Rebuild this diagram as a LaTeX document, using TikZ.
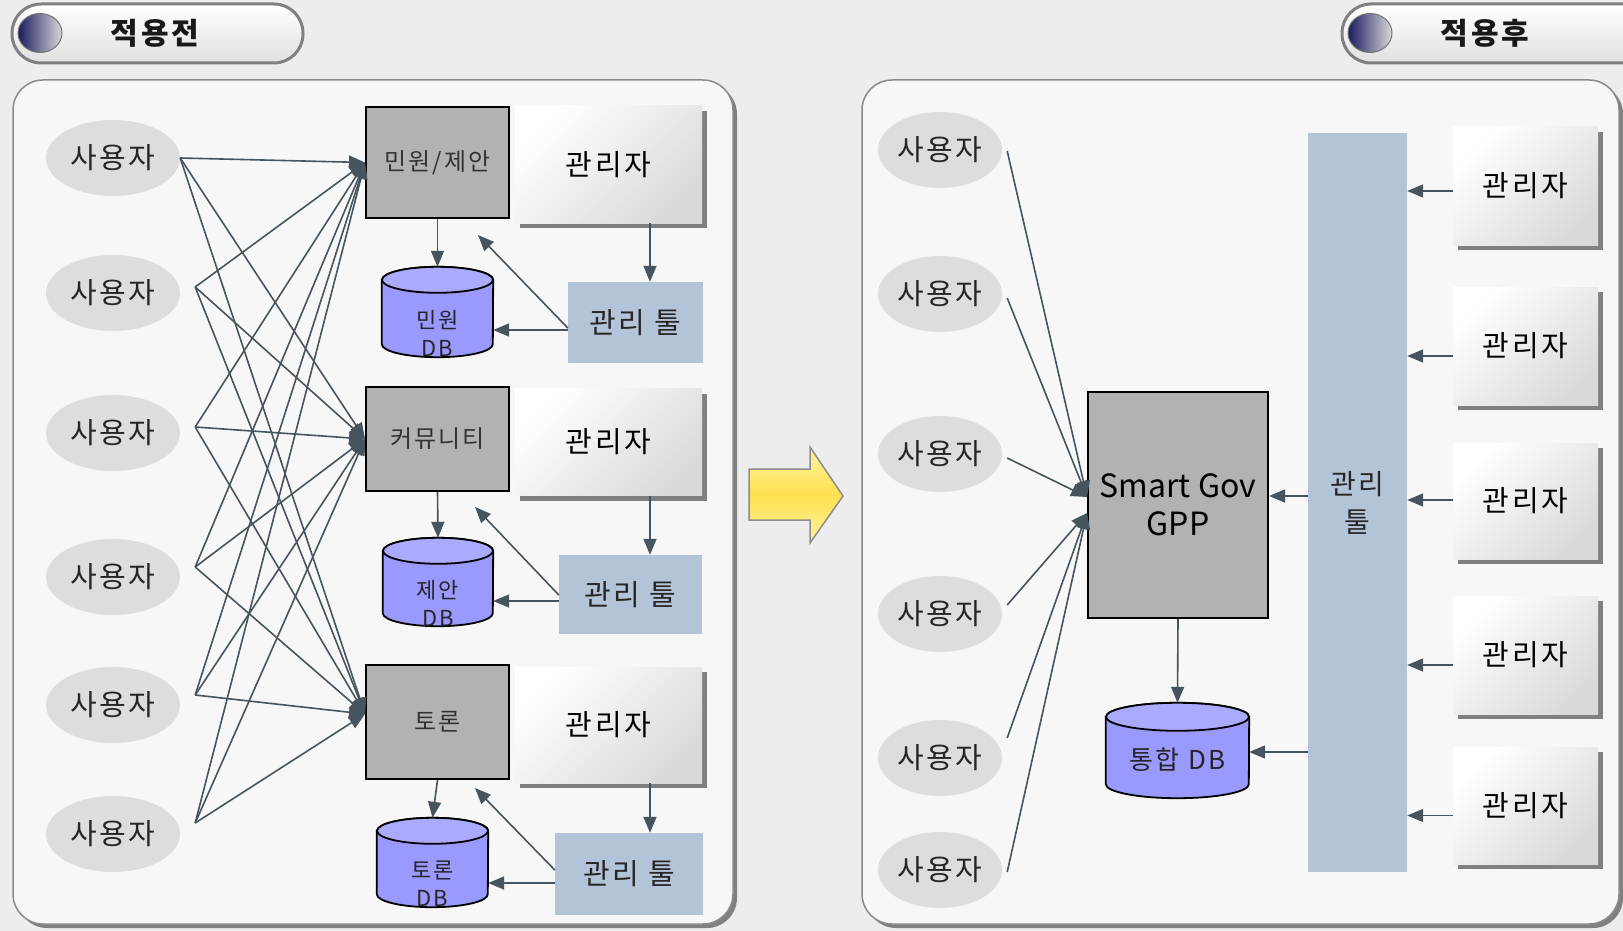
\documentclass[tikz,border=0pt]{standalone}
\usepackage{fontspec}
\newfontfamily\kr[LetterSpace=9]{Noto Sans CJK KR}
\newfontfamily\krn{Noto Sans CJK KR}
\usetikzlibrary{shapes.geometric,arrows.meta,shadows,calc}
\definecolor{bgc}{HTML}{EDEDED}
\definecolor{panelfill}{HTML}{F7F7F7}
\definecolor{panelborder}{HTML}{8A8A8A}
\definecolor{shadowgray}{HTML}{808080}
\definecolor{usergray}{HTML}{DDDDDD}
\definecolor{boxgray}{HTML}{B2B2B2}
\definecolor{toolblue}{HTML}{B4C4D8}
\definecolor{dbbody}{HTML}{9999FF}
\definecolor{dbtop}{HTML}{AAAAFF}
\definecolor{connc}{HTML}{46555D}
\definecolor{adminend}{HTML}{DADADA}
\definecolor{navy}{HTML}{1B1B5E}
\definecolor{yellowmid}{HTML}{FFE050}
\definecolor{yellowedge}{HTML}{FFF3A0}
\newcommand\dbshape[3]{%
  \path[fill=dbbody,draw=black,line width=1.8pt]
    ([yshift=-#3pt]#1.north west) -- ([yshift=#3pt]#1.south west)
    arc[start angle=180,end angle=0,x radius=#2,y radius=#3]
    -- ([yshift=-#3pt]#1.north east)
    arc[start angle=0,end angle=-180,x radius=#2,y radius=#3] -- cycle;
  \path[fill=dbtop,draw=black,line width=1.8pt]
    ([yshift=-#3pt]#1.north) ellipse[x radius=#2,y radius=#3];
}
\begin{document}
\begin{tikzpicture}[x=1pt,y=-1pt,
  kr30/.style={font=\kr\fontsize{29}{34}\selectfont},
  panel/.style={rectangle,rounded corners=30pt,fill=panelfill,draw=panelborder,line width=1.5pt,inner sep=0pt,
    drop shadow={shadow xshift=4pt,shadow yshift=-4pt,fill=shadowgray,opacity=1}},
  pill/.style={rectangle,rounded corners=29pt,draw=shadowgray,line width=3pt,top color=white,bottom color=black!12,inner sep=0pt,minimum height=59pt},
  ball/.style={ellipse,minimum width=44pt,minimum height=39pt,left color=navy,right color=black!15,draw=black!55,line width=1pt,inner sep=0pt},
  titletxt/.style={font=\kr\bfseries\fontsize{30}{36}\selectfont,text=black!90},
  user/.style={ellipse,fill=usergray,inner sep=0pt,text=black!85,kr30},
  graybox/.style={rectangle,fill=boxgray,draw=black,line width=2pt,inner sep=0pt,text=black!80,font=\kr\fontsize{24}{28}\selectfont},
  admin/.style={rectangle,inner sep=0pt,top color=white,bottom color=adminend,shading angle=45,
    drop shadow={shadow xshift=5pt,shadow yshift=-5pt,fill=shadowgray,opacity=1},kr30,text=black},
  tool/.style={rectangle,fill=toolblue,inner sep=0pt,kr30,text=black!85},
  dbbox/.style={rectangle,inner sep=0pt},
  dbtxt/.style={align=center,font=\kr\fontsize{22}{28}\selectfont,text=black!85},
  conn/.style={draw=connc,line width=1.6pt,-{Triangle[length=16pt,width=13pt]}},
  bigarrow/.style={draw=black!45,line width=1.5pt,top color=yellowedge,bottom color=yellowedge,middle color=yellowmid}
]
\useasboundingbox (0,0) rectangle (1623,931);
\clip (0,0) rectangle (1623,931);
\fill[bgc] (0,0) rectangle (1623,931);

% panels
\node[panel,minimum width=720pt,minimum height=844pt] (lp) at (373,502) {};
\node[panel,minimum width=757pt,minimum height=844pt] (rp) at (1240.5,502) {};

% titles
\node[pill,minimum width=291pt] (tl) at (157.5,33.5) {};
\node[ball] (tlb) at (40,33) {};
\node[titletxt] (tlt) at (155,33) {적용전};
\node[pill,minimum width=358pt] (tr) at (1521,33.5) {};
\node[ball] (trb) at (1370,33) {};
\node[titletxt] (trt) at (1485,33) {적용후};

% ---------------- left panel ----------------
\foreach \i/\y in {1/158,2/293,3/433,4/577,5/705,6/834}
  \node[user,minimum width=134pt,minimum height=76pt] (u\i) at (113,\y) {사용자};

\node[graybox,minimum width=143pt,minimum height=111pt] (b1) at (437.5,162.5) {민원/제안};
\node[graybox,minimum width=143pt,minimum height=104pt] (b2) at (437.5,439) {커뮤니티};
\node[graybox,minimum width=143pt,minimum height=114pt] (b3) at (437.5,722) {토론};

\node[admin,minimum width=187pt,minimum height=117pt] (a1) at (608.5,164.5) {관리자};
\node[admin,minimum width=187pt,minimum height=107pt] (a2) at (608.5,442) {관리자};
\node[admin,minimum width=187pt,minimum height=116pt] (a3) at (608.5,725) {관리자};

\node[tool,minimum width=135pt,minimum height=81pt] (t1) at (635.5,322.5) {관리 툴};
\node[tool,minimum width=143pt,minimum height=79pt] (t2) at (630.5,594.5) {관리 툴};
\node[tool,minimum width=148pt,minimum height=82pt] (t3) at (629,874) {관리 툴};

\node[dbbox,minimum width=111pt,minimum height=90pt] (db1) at (437.5,312) {};
\dbshape{db1}{55.5}{13}
\node[dbtxt] (db1t) at ([yshift=-21pt]db1.center) {민원\\DB};
\node[dbbox,minimum width=110pt,minimum height=88pt] (db2) at (438,582) {};
\dbshape{db2}{55}{13}
\node[dbtxt] (db2t) at ([yshift=-21pt]db2.center) {제안\\DB};
\node[dbbox,minimum width=111pt,minimum height=89pt] (db3) at (432.5,862.5) {};
\dbshape{db3}{55.5}{13}
\node[dbtxt] (db3t) at ([yshift=-21pt]db3.center) {토론\\DB};

% user -> service connectors
\coordinate (s1) at (u1.east);
\coordinate (s2) at ([xshift=15pt,yshift=6pt]u2.east);
\coordinate (s3) at ([xshift=15pt,yshift=6pt]u3.east);
\coordinate (s4) at ([xshift=15pt,yshift=10pt]u4.east);
\coordinate (s5) at ([xshift=15pt,yshift=10pt]u5.east);
\coordinate (s6) at ([xshift=15pt,yshift=11pt]u6.east);
\coordinate (e1) at (b1.west);
\coordinate (e2) at (b2.west);
\coordinate (e3) at ([yshift=8pt]b3.west);
\foreach \s in {s1,s2,s3,s4,s5,s6}
  \foreach \e in {e1,e2,e3}
    \draw[conn] (\s) -- (\e);

% box -> db
\draw[conn] (b1.south) -- (db1.north);
\draw[conn] (b2.south) -- (db2.north);
\draw[conn] (b3.south) -- (db3.north);

% admin -> tool
\foreach \i in {1,2,3}{
  \coordinate (ap\i) at ([xshift=41.5pt]a\i.south);
  \draw[conn] (ap\i) -- (ap\i |- t\i.north);
}

% tool -> db and tool -> box
\draw[conn] ([yshift=-7.5pt]t1.west) -- ([yshift=-18pt]db1.east);
\draw[conn] ([yshift=-6.5pt]t2.west) -- ([yshift=-19pt]db2.east);
\draw[conn] ([yshift=-9pt]t3.west) -- ([yshift=-20.5pt]db3.east);
\coordinate (c1) at (478,235);
\coordinate (c2) at (475,507);
\coordinate (c3) at (475,788);
\draw[conn] ([yshift=-5.5pt]t1.west) -- (c1);
\draw[conn] ([yshift=-0.5pt]t2.west) -- (c2);
\draw[conn] ([yshift=4pt]t3.west) -- (c3);

% big arrow
\draw[bigarrow] (749,469) -- (810,469) -- (810,447) -- (843,496) -- (810,543) -- (810,520) -- (749,520) -- cycle;

% ---------------- right panel ----------------
\foreach \i/\y in {1/150,2/294,3/454,4/614,5/758,6/870}
  \node[user,minimum width=124pt,minimum height=76pt] (v\i) at (940,\y) {사용자};

\node[graybox,minimum width=180pt,minimum height=226pt,align=center,text=black,font=\krn\fontsize{32}{38}\selectfont] (sg) at (1178,505) {Smart Gov\\GPP};

\node[dbbox,minimum width=143pt,minimum height=95pt] (tdb) at (1177.5,750.5) {};
\dbshape{tdb}{71.5}{14}
\node[dbtxt,font=\kr\fontsize{26}{30}\selectfont] (tdbt) at ([yshift=-9.5pt]tdb.center) {통합 DB};

\node[tool,minimum width=99pt,minimum height=739pt,align=center,font=\kr\fontsize{28}{38}\selectfont] (bar) at (1357.5,502.5) {관리\\툴};

\foreach \i/\y/\h in {1/186/118,2/346/118,3/501/116,4/655/118,5/805.5/117}
  \node[admin,minimum width=145pt,minimum height=\h pt] (r\i) at (1525.5,\y) {관리자};

% users -> Smart Gov
\coordinate (g1) at ([yshift=8pt]sg.west);
\coordinate (g2) at ([yshift=-8pt]sg.west);
\draw[conn] ([xshift=5pt,yshift=-1pt]v1.east) -- (g1);
\draw[conn] ([xshift=5pt,yshift=-4pt]v2.east) -- (g1);
\draw[conn] ([xshift=5pt,yshift=-4pt]v3.east) -- (g1);
\draw[conn] ([xshift=5pt,yshift=9pt]v4.east) -- (g2);
\draw[conn] ([xshift=5pt,yshift=20pt]v5.east) -- (g2);
\draw[conn] ([xshift=5pt,yshift=-2pt]v6.east) -- (g2);

% Smart Gov -> DB
\draw[conn] (sg.south) -- (tdb.north);

% bar -> Smart Gov, bar -> DB
\coordinate (sge) at ([yshift=9pt]sg.east);
\draw[conn] (bar.west |- sge) -- (sge);
\coordinate (tdbe) at ([yshift=-1.5pt]tdb.east);
\draw[conn] (bar.west |- tdbe) -- (tdbe);

% admins -> bar
\foreach \i/\d in {1/5,2/10,3/-1,4/10,5/10}{
  \coordinate (rp\i) at ([yshift=-\d pt]r\i.west);
  \draw[conn] (rp\i) -- (bar.east |- rp\i);
}
\end{tikzpicture}
\end{document}
